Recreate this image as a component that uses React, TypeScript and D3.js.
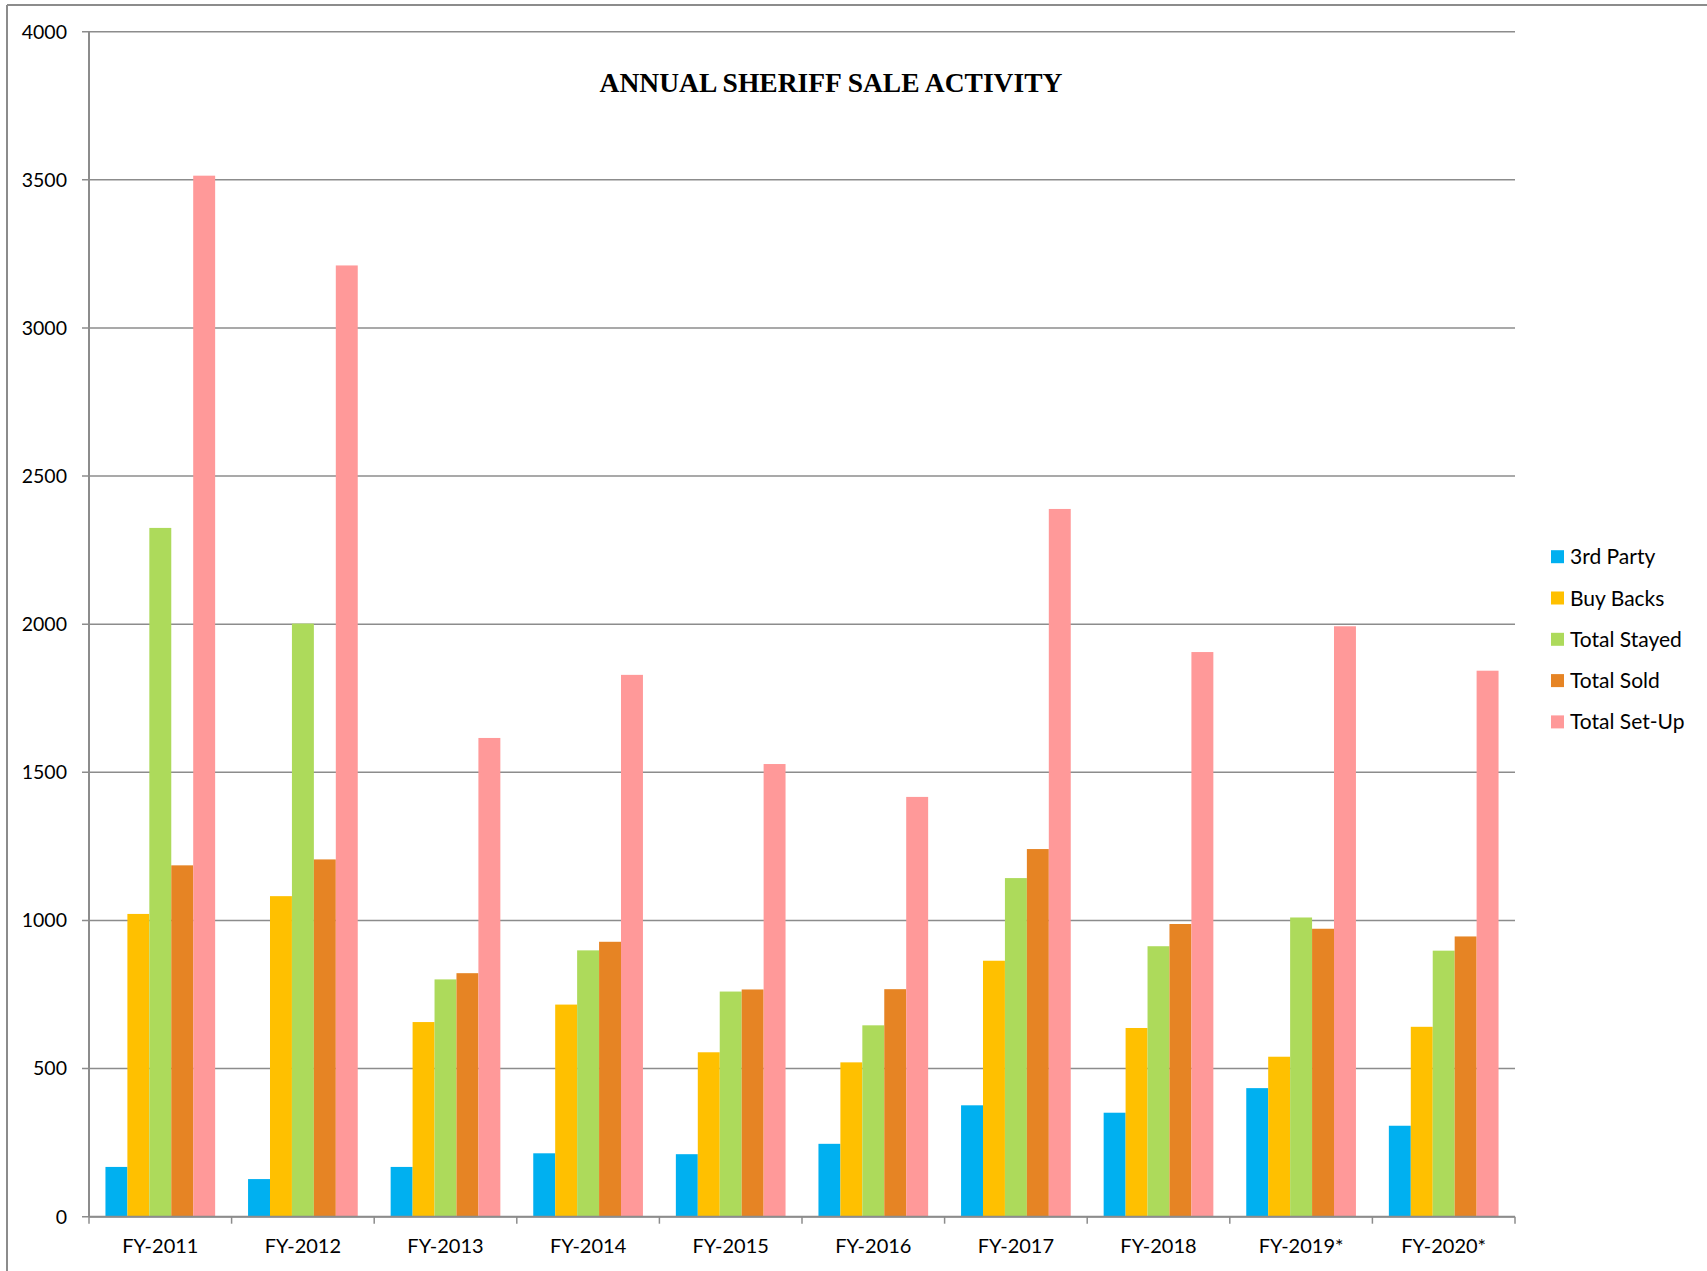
import React from "react";
import * as d3 from "d3";

// Fiscal years on the category axis
const categories = [
  "FY-2011", "FY-2012", "FY-2013", "FY-2014", "FY-2015",
  "FY-2016", "FY-2017", "FY-2018", "FY-2019*", "FY-2020*",
];

// Series values, one entry per fiscal year
const thirdParty = [168, 127, 168, 214, 211, 246, 376, 351, 434, 307];
const buyBacks = [1022, 1082, 657, 716, 555, 521, 864, 637, 540, 641];
const totalStayed = [2325, 2002, 801, 899, 760, 646, 1143, 913, 1010, 898];
const totalSold = [1186, 1206, 822, 928, 767, 768, 1241, 988, 972, 946];
const totalSetUp = [3514, 3211, 1616, 1829, 1528, 1417, 2389, 1906, 1993, 1843];

const seriesNames = ["3rd Party", "Buy Backs", "Total Stayed", "Total Sold", "Total Set-Up"];
const seriesValues = [thirdParty, buyBacks, totalStayed, totalSold, totalSetUp];
const seriesColors = ["#00B0F0", "#FFC000", "#ADDA5B", "#E68424", "#FF9999"];

const yTicks = [0, 500, 1000, 1500, 2000, 2500, 3000, 3500, 4000];

const W = 1707;
const H = 1271;
const plotLeft = 89;
const plotRight = 1515;
const plotTop = 31.7;
const plotBottom = 1216.7;

const axisColor = "#8C8C8C";
const labelFont = "Lato, 'Open Sans', sans-serif";

export default function App() {
  const x0 = d3.scaleBand<string>().domain(categories).range([plotLeft, plotRight]).padding(0);
  const x1 = d3
    .scaleBand<string>()
    .domain(seriesNames)
    .range([0, x0.bandwidth()])
    .paddingInner(0)
    .paddingOuter(0.75);
  const y = d3.scaleLinear().domain([0, 4000]).range([plotBottom, plotTop]);

  const boundaries = d3.range(categories.length + 1).map((i) => plotLeft + i * x0.step());

  return (
    <svg
      width={W}
      height={H}
      style={{ position: "absolute", left: 0, top: 0, background: "#fff" }}
    >
      {/* outer chart frame */}
      <line x1={7} y1={5} x2={W} y2={5} stroke={axisColor} strokeWidth={2} />
      <line x1={7} y1={5} x2={7} y2={H} stroke={axisColor} strokeWidth={2} />

      {/* horizontal gridlines with small outside ticks */}
      {yTicks.map((t) => (
        <g key={t}>
          <line
            x1={plotLeft - 7}
            x2={plotRight}
            y1={y(t)}
            y2={y(t)}
            stroke={axisColor}
            strokeWidth={1.5}
          />
          <text
            x={67}
            y={y(t)}
            dy="0.35em"
            textAnchor="end"
            fontFamily={labelFont}
            fontSize={19.5}
            fill="#000"
          >
            {t}
          </text>
        </g>
      ))}

      {/* bars */}
      {categories.map((c, ci) => (
        <g key={c} transform={`translate(${x0(c)},0)`}>
          {seriesNames.map((s, si) => {
            const v = seriesValues[si][ci];
            return (
              <rect
                key={s}
                x={x1(s)}
                y={y(v)}
                width={x1.bandwidth()}
                height={plotBottom - y(v)}
                fill={seriesColors[si]}
              />
            );
          })}
        </g>
      ))}

      {/* value axis line */}
      <line x1={plotLeft} x2={plotLeft} y1={plotTop} y2={plotBottom} stroke={axisColor} strokeWidth={2} />
      {/* category axis line and ticks */}
      <line x1={plotLeft} x2={plotRight} y1={plotBottom} y2={plotBottom} stroke={axisColor} strokeWidth={2} />
      {boundaries.map((bx, i) => (
        <line
          key={i}
          x1={bx}
          x2={bx}
          y1={plotBottom}
          y2={plotBottom + 7}
          stroke={axisColor}
          strokeWidth={1.5}
        />
      ))}
      {categories.map((c) => (
        <text
          key={c}
          x={(x0(c) as number) + x0.bandwidth() / 2}
          y={1253}
          textAnchor="middle"
          fontFamily={labelFont}
          fontSize={20}
          fill="#000"
        >
          {c}
        </text>
      ))}

      {/* title */}
      <text
        x={831}
        y={92}
        textAnchor="middle"
        fontFamily="'Liberation Serif', 'Times New Roman', serif"
        fontWeight="bold"
        fontSize={27.5}
        fill="#000"
      >
        ANNUAL SHERIFF SALE ACTIVITY
      </text>

      {/* legend */}
      {seriesNames.map((s, i) => {
        const cy = 556.7 + i * 41.3;
        return (
          <g key={s}>
            <rect x={1551} y={cy - 6.5} width={13} height={13} fill={seriesColors[i]} />
            <text
              x={1570}
              y={cy}
              dy="0.36em"
              fontFamily={labelFont}
              fontSize={21}
              fill="#000"
            >
              {s}
            </text>
          </g>
        );
      })}
    </svg>
  );
}
